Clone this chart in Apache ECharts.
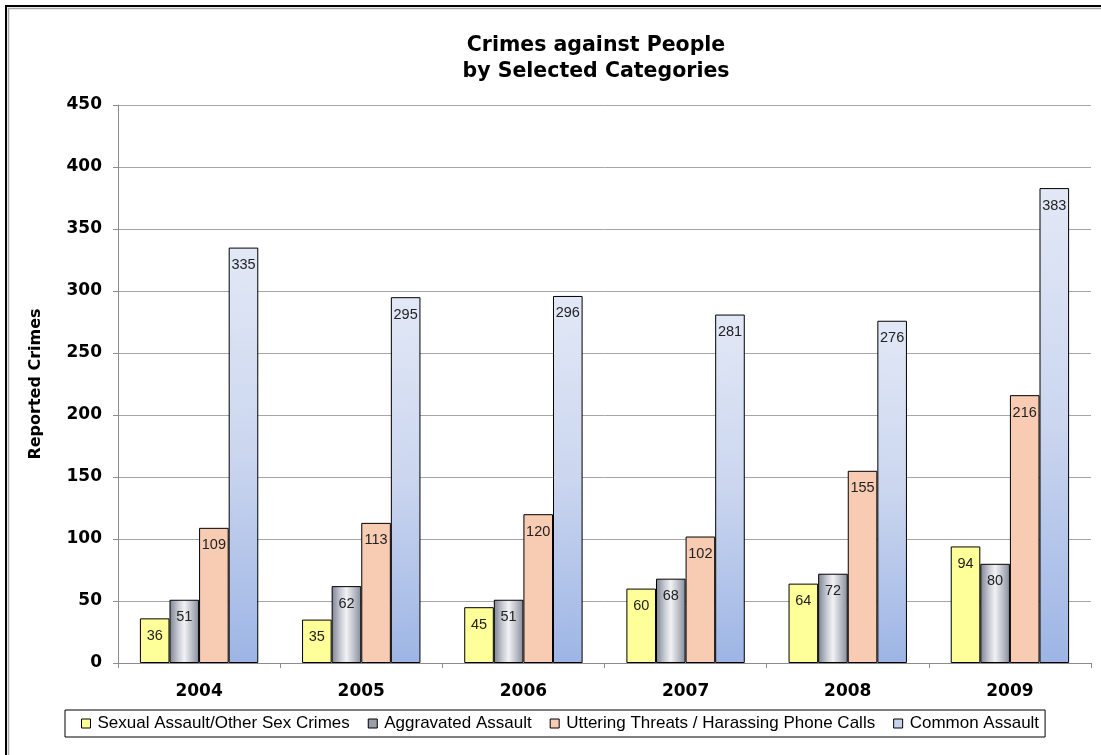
<!DOCTYPE html>
<html><head><meta charset="utf-8">
<script src="https://cdn.jsdelivr.net/npm/echarts@6/dist/echarts.min.js"></script>
<style>html,body{margin:0;padding:0;background:#fff}#c{width:1101px;height:755px}</style>
</head><body><div id="c"></div>
<script>
const years = ['2004','2005','2006','2007','2008','2009'];
const seriesNames = ['Sexual Assault/Other Sex Crimes','Aggravated Assault','Uttering Threats / Harassing Phone Calls','Common Assault'];
const sexualAssault = [36,35,45,60,64,94];
const aggravatedAssault = [51,62,51,68,72,80];
const utteringThreats = [109,113,120,102,155,216];
const commonAssault = [335,295,296,281,276,383];
const yTicks = [0,50,100,150,200,250,300,350,400,450];
const titleLines = ['Crimes against People','by Selected Categories'];

const BOLD = '"DejaVu Sans", Verdana, sans-serif';
const REG = '"Liberation Sans", Arial, sans-serif';
const fills = [
  '#FFFF99',
  {type:'linear',x:0,y:0,x2:1,y2:0,colorStops:[{offset:0,color:'#7C8292'},{offset:0.3,color:'#C9CCD4'},{offset:0.5,color:'#F2F2F5'},{offset:0.75,color:'#BEC1CA'},{offset:1,color:'#858B9A'}]},
  '#F8CBB3',
  {type:'linear',x:0,y:0,x2:0.6,y2:1,colorStops:[{offset:0,color:'#E2E8F6'},{offset:0.5,color:'#CBD6EF'},{offset:1,color:'#9DB5E5'}]}
];
const legendColors = ['#FFFF99','#9A9EAA','#F8CBB3','#C6D2EE'];
const data = [sexualAssault, aggravatedAssault, utteringThreats, commonAssault];

const chart = echarts.init(document.getElementById('c'), null, {renderer:'canvas'});
chart.setOption({
  animation:false,
  textStyle:{fontFamily:REG},
  graphic:[
    {type:'rect', shape:{x:6,y:6,width:1200,height:900}, style:{fill:'none', stroke:'#000', lineWidth:2}, z:-1, silent:true},
    {type:'rect', shape:{x:8.5,y:8.5,width:1200,height:900}, style:{fill:'none', stroke:'#A8A8A8', lineWidth:1.5}, z:-1, silent:true},
    {type:'text', x:596, y:46, style:{text:titleLines[0], textAlign:'center', textVerticalAlign:'middle', font:'bold 20.5px ' + BOLD, fill:'#000'}},
    {type:'text', x:596, y:72, style:{text:titleLines[1], textAlign:'center', textVerticalAlign:'middle', font:'bold 20.5px ' + BOLD, fill:'#000'}}
  ],
  legend:{left:65, top:710, orient:'horizontal', itemWidth:9, itemHeight:9, itemGap:18,
    borderColor:'#000', borderWidth:1, padding:[5,6,5,16],
    textStyle:{fontFamily:REG, fontSize:17, color:'#000', padding:[0,0,0,2]},
    data: seriesNames.map((n,i)=>({name:n, icon:'rect', itemStyle:{color:legendColors[i], borderColor:'#000', borderWidth:1}}))},
  grid:{left:118, right:10, top:105, bottom:92, containLabel:false},
  xAxis:{type:'category', data:years,
    axisLine:{lineStyle:{color:'#8C8C8C', width:1}},
    axisTick:{show:true, length:5, lineStyle:{color:'#8C8C8C'}},
    axisLabel:{fontFamily:BOLD, fontSize:17, fontWeight:'bold', color:'#000', margin:20}},
  yAxis:{type:'value', min:0, max:450, interval:50,
    name:'Reported Crimes', nameLocation:'middle', nameGap:74, nameRotate:90,
    nameTextStyle:{fontFamily:BOLD, fontSize:16, fontWeight:'bold', color:'#000'},
    axisLine:{show:true, lineStyle:{color:'#8C8C8C'}},
    axisTick:{show:true, length:5, lineStyle:{color:'#8C8C8C'}},
    splitLine:{lineStyle:{color:'#A6A6A6', width:1}},
    axisLabel:{fontFamily:BOLD, fontSize:17, fontWeight:'bold', color:'#000', margin:16,
      formatter:(v)=> yTicks.includes(v) ? String(v) : ''}},
  series: data.map((d,i)=>({
    name:seriesNames[i], type:'bar', data:d, barGap:'0%', barCategoryGap:'27%',
    itemStyle:{color:fills[i], borderColor:'#000', borderWidth:1},
    label:{show:true, position:'insideTop', distance:10, fontFamily:REG, fontSize:14.5, color:'#222'}
  }))
});
</script></body></html>
